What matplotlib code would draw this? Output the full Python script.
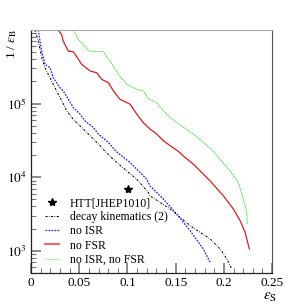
import numpy as np
import matplotlib
matplotlib.use('Agg')
import matplotlib.pyplot as plt
from matplotlib.lines import Line2D
from matplotlib.ticker import LogLocator, MultipleLocator, NullFormatter, FixedFormatter, FixedLocator

plt.rcParams['font.family'] = ['Liberation Serif', 'DejaVu Serif']
plt.rcParams['mathtext.fontset'] = 'stix'

# signal efficiency vs inverse background efficiency
x_nofsr_noisr = [0.044, 0.0491, 0.0605, 0.0750, 0.0819, 0.0906, 0.0993, 0.1096, 0.1165,
                 0.1224, 0.1304, 0.1356, 0.1442, 0.1580, 0.1684, 0.1787, 0.1891, 0.1961,
                 0.2064, 0.2150, 0.2202, 0.2237, 0.2244]
y_nofsr_noisr = [1.0e6, 7.4e5, 5.15e5, 5.05e5, 3.78e5, 2.49e5, 1.82e5, 1.56e5, 1.48e5,
                 1.14e5, 1.03e5, 8.4e4, 6.47e4, 4.74e4, 3.85e4, 2.97e4, 2.24e4, 1.75e4,
                 1.22e4, 8.5e3, 5.05e3, 3.33e3, 2.32e3]

x_nofsr = [0.0280, 0.0318, 0.0335, 0.0387, 0.0439, 0.0526, 0.0612, 0.0681, 0.0733, 0.0802,
           0.0854, 0.0923, 0.1027, 0.1096, 0.1165, 0.1234, 0.1304, 0.1372, 0.1442, 0.1528,
           0.1580, 0.1684, 0.1857, 0.1995, 0.2098, 0.2168, 0.2220, 0.2264]
y_nofsr = [1.0e6, 8.6e5, 7.0e5, 5.15e5, 5.05e5, 3.40e5, 2.77e5, 2.62e5, 2.13e5, 1.92e5,
           1.49e5, 1.14e5, 9.8e4, 7.2e4, 5.5e4, 4.5e4, 3.85e4, 3.13e4, 2.68e4, 2.24e4,
           1.94e4, 1.50e4, 8.9e3, 5.58e3, 3.70e3, 2.57e3, 1.79e3, 1.06e3]

x_noisr = [0.0076, 0.0093, 0.0111, 0.0145, 0.0197, 0.0231, 0.0301, 0.0335, 0.0387, 0.0439,
           0.0508, 0.0560, 0.0646, 0.0698, 0.0802, 0.0882, 0.1027, 0.1200, 0.1234, 0.1372,
           0.1511, 0.1649, 0.1787, 0.1857]
y_noisr = [1.0e6, 7.0e5, 5.15e5, 3.40e5, 3.06e5, 2.24e5, 1.64e5, 1.48e5, 1.14e5, 8.8e4,
           7.2e4, 5.8e4, 4.74e4, 3.85e4, 2.97e4, 2.24e4, 1.58e4, 9.4e3, 7.6e3, 5.05e3,
           3.16e3, 1.88e3, 1.06e3, 7.0e2]

x_decay = [0.0041, 0.0076, 0.0111, 0.0145, 0.0197, 0.0249, 0.0301, 0.0370, 0.0439, 0.0542,
           0.0630, 0.0716, 0.0768, 0.0889, 0.1096, 0.1217, 0.1234, 0.1442, 0.1649, 0.1857,
           0.1961, 0.2030, 0.2082]
y_decay = [1.0e6, 7.0e5, 4.19e5, 3.06e5, 2.24e5, 1.64e5, 1.21e5, 7.96e4, 6.1e4, 4.5e4,
           3.47e4, 2.68e4, 2.24e4, 1.58e4, 9.4e3, 6.2e3, 5.58e3, 3.70e3, 2.2e3, 1.45e3,
           1.06e3, 7.8e2, 5.71e2]

x_htt = [0.1005]
y_htt = [6.9e3]

labels = ['HTT[JHEP1010]', 'decay kinematics (2)', 'no ISR', 'no FSR', 'no ISR, no FSR']

fig = plt.figure(figsize=(3.04, 3.05), dpi=100)
ax = fig.add_axes([0.102, 0.105, 0.793, 0.797])

dashdot = (0, (2.0, 1.4, 0.6, 1.4))
ax.plot(x_decay, y_decay, color='black', lw=0.75, linestyle=dashdot)
ax.plot(x_noisr, y_noisr, color='#1a1aff', lw=0.9, linestyle=(0, (1.4, 1.0)))
ax.plot(x_nofsr, y_nofsr, color='#dd1c1c', lw=0.9)
ax.plot(x_nofsr_noisr, y_nofsr_noisr, color='#55e055', lw=0.8, linestyle=(0, (1.2, 0.6)))
ax.plot(x_htt, y_htt, linestyle='none', marker='*', color='black', markersize=6)

ax.set_yscale('log')
ax.set_xlim(0, 0.25)
ax.set_ylim(5e2, 1e6)

ax.xaxis.set_minor_locator(MultipleLocator(0.01))
ax.set_xticks([0, 0.05, 0.1, 0.15, 0.2, 0.25])
ax.set_xticklabels(['0', '0.05', '0.1', '0.15', '0.2', '0.25'])
ax.yaxis.set_major_locator(FixedLocator([1e3, 1e4, 1e5]))
ax.yaxis.set_major_formatter(FixedFormatter([r'$10^{3}$', r'$10^{4}$', r'$10^{5}$']))
ax.yaxis.set_minor_locator(LogLocator(base=10, subs=np.arange(2, 10)))
ax.yaxis.set_minor_formatter(NullFormatter())

ax.tick_params(which='both', direction='in', top=False, right=False,
               color='#777777', labelsize=9.5, pad=3)
ax.tick_params(which='major', length=7, width=1.2)
ax.tick_params(which='minor', length=3.5, width=0.8)

for side in ['left', 'bottom']:
    ax.spines[side].set_color('#222222')
    ax.spines[side].set_linewidth(0.9)
ax.spines['top'].set_color('#aaaaaa')
ax.spines['right'].set_color('#555555')

# axis titles, ROOT style at the axis ends
fig.text(12 / 304, 1 - 29 / 305, r'1 / $\varepsilon_{\rm B}$', fontsize=9.5,
         rotation=90, ha='center', va='top')
fig.text(270 / 304, 1 - 297 / 305, r'$\varepsilon_{\rm S}$', fontsize=11,
         ha='center', va='center')

handles = [Line2D([], [], linestyle='none', marker='*', color='black', markersize=6),
           Line2D([], [], color='black', lw=0.75, linestyle=dashdot),
           Line2D([], [], color='#1a1aff', lw=0.9, linestyle=(0, (1.4, 1.0))),
           Line2D([], [], color='#e07070', lw=1.6),
           Line2D([], [], color='#88e888', lw=0.9, linestyle=(0, (1.2, 0.6)))]
fig.legend(handles, labels, loc='upper left', bbox_to_anchor=(44 / 304, 1 - 196 / 305),
           frameon=False, fontsize=8.5, handlelength=1.2, handletextpad=0.9,
           labelspacing=0.18, borderpad=0.1, borderaxespad=0)

fig.savefig('out.png', dpi=100)
